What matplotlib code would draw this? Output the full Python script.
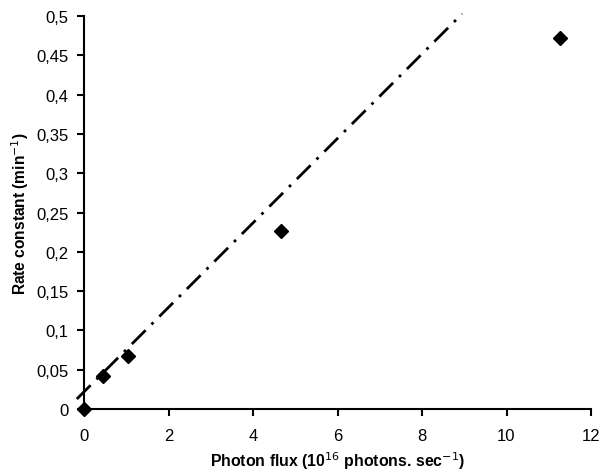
import matplotlib
matplotlib.use("Agg")
import matplotlib.pyplot as plt
from matplotlib.ticker import FuncFormatter

plt.rcParams['font.family'] = ['Liberation Sans', 'DejaVu Sans']

flux = [0.0, 0.44, 1.05, 4.66, 11.27]
rate = [0.0, 0.042, 0.067, 0.227, 0.472]
fit_x = [-0.17, 8.95]
fit_y = [0.0127, 0.503]

fig = plt.figure(figsize=(6, 4.77), dpi=100)
ax = fig.add_axes([0.14, 0.1405, 0.845, 0.8235])

ax.plot(fit_x, fit_y, color='black', lw=2, dashes=(7, 3, 1, 3), clip_on=False)
ax.plot(flux, rate, linestyle='none', marker='D', color='black', ms=7, clip_on=False, zorder=3)

ax.set_xlim(0, 12)
ax.set_ylim(0, 0.5)
ax.set_xticks(range(0, 13, 2))
ax.set_yticks([i * 0.05 for i in range(11)])
ax.yaxis.set_major_formatter(FuncFormatter(lambda v, p: ('%g' % round(v, 3)).replace('.', ',')))
for s in ['top', 'right']:
    ax.spines[s].set_visible(False)
for s in ['left', 'bottom']:
    ax.spines[s].set_linewidth(1.5)
ax.tick_params(direction='out', length=5, width=1.5, labelsize=12)
ax.tick_params(axis='x', pad=9)
ax.tick_params(axis='y', pad=6)
ax.set_xlabel('Photon flux (10$^{16}$ photons. sec$^{-1}$)', fontsize=11.4, fontweight='bold', labelpad=4)
ax.set_ylabel('Rate constant (min$^{-1}$)', fontsize=11.2, fontweight='bold', labelpad=4)

fig.savefig('out.png', dpi=100)
